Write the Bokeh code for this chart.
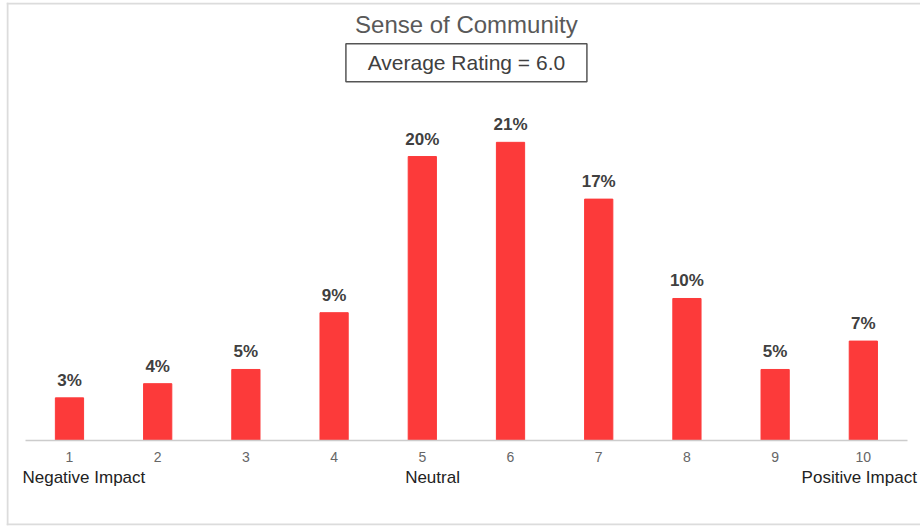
from bokeh.plotting import figure
from bokeh.models import Range1d, FixedTicker, ColumnDataSource, Span
from bokeh.core.properties import value
from bokeh.embed import file_html
from bokeh.resources import INLINE

# Survey data: share of respondents giving each rating
ratings = [1, 2, 3, 4, 5, 6, 7, 8, 9, 10]
shares = [3, 4, 5, 9, 20, 21, 17, 10, 5, 7]
share_labels = [f"{s}%" for s in shares]

title_text = "Sense of Community"
subtitle_text = "Average Rating = 6.0"
scale_ends = ["Negative Impact", "Neutral", "Positive Impact"]

FONT = "Liberation Sans"
BAR = "#fc3a3a"

X0, X1 = 0.286, 10.648
Y0, Y1 = -5.99, 30.85

p = figure(
    width=920, height=527,
    x_range=Range1d(X0, X1), y_range=Range1d(Y0, Y1),
    output_backend="svg", toolbar_location=None,
    min_border_left=6, min_border_right=0, min_border_top=2, min_border_bottom=2,
    y_axis_location=None,
)
p.outline_line_color = None
p.grid.visible = False
p.background_fill_color = "white"
p.border_fill_color = "white"

# light frame on the left, top and bottom edges
edge = dict(line_color="#dcdcdc", line_width=2)
p.add_layout(Span(location=X0 + 1 / 88.2, dimension="height", **edge))
p.add_layout(Span(location=Y1 - 1 / 14.2, dimension="width", **edge))
p.add_layout(Span(location=Y0 + 1 / 14.2, dimension="width", **edge))

src = ColumnDataSource(dict(x=ratings, top=shares, lbl=share_labels))
p.vbar(x="x", top="top", bottom=0, width=0.32, source=src,
       fill_color=BAR, line_color=BAR)

# value labels above bars
p.text(x="x", y="top", text="lbl", source=src, y_offset=-8,
       text_align="center", text_baseline="bottom",
       text_font=value(FONT), text_font_style="bold",
       text_font_size="17px", text_color="#404040")

# rating axis on the zero line
ax = p.xaxis[0]
ax.fixed_location = 0
ax.bounds = (0.5, 10.5)
ax.ticker = FixedTicker(ticks=ratings)
ax.axis_line_color = "#cccccc"
ax.axis_line_width = 1.5
ax.major_tick_line_color = None
ax.minor_tick_line_color = None
ax.major_label_standoff = 6
ax.major_label_text_font = FONT
ax.major_label_text_font_size = "14px"
ax.major_label_text_color = "#666666"

# scale end descriptions
end_style = dict(text_baseline="middle", text_font=value(FONT),
                 text_font_size="17px", text_color="#222222")
p.text(x=[0.467], y=[-2.62], text=[scale_ends[0]], text_align="left", **end_style)
p.text(x=[5.116], y=[-2.62], text=[scale_ends[1]], text_align="center", **end_style)
p.text(x=[9.30], y=[-2.62], text=[scale_ends[2]], text_align="left", **end_style)

# heading and boxed average
p.text(x=[5.5], y=[29.3], text=[title_text], text_align="center",
       text_baseline="middle", text_font=value(FONT), text_font_size="24px",
       text_color="#595959")
p.rect(x=[5.5], y=[26.6], width=241, height=38, width_units="screen",
       height_units="screen", fill_color=None, line_color="#555555",
       line_width=1.5)
p.text(x=[5.5], y=[26.6], text=[subtitle_text], text_align="center",
       text_baseline="middle", text_font=value(FONT), text_font_size="21px",
       text_color="#404040")

open("out.html", "w").write(file_html(p, INLINE))
